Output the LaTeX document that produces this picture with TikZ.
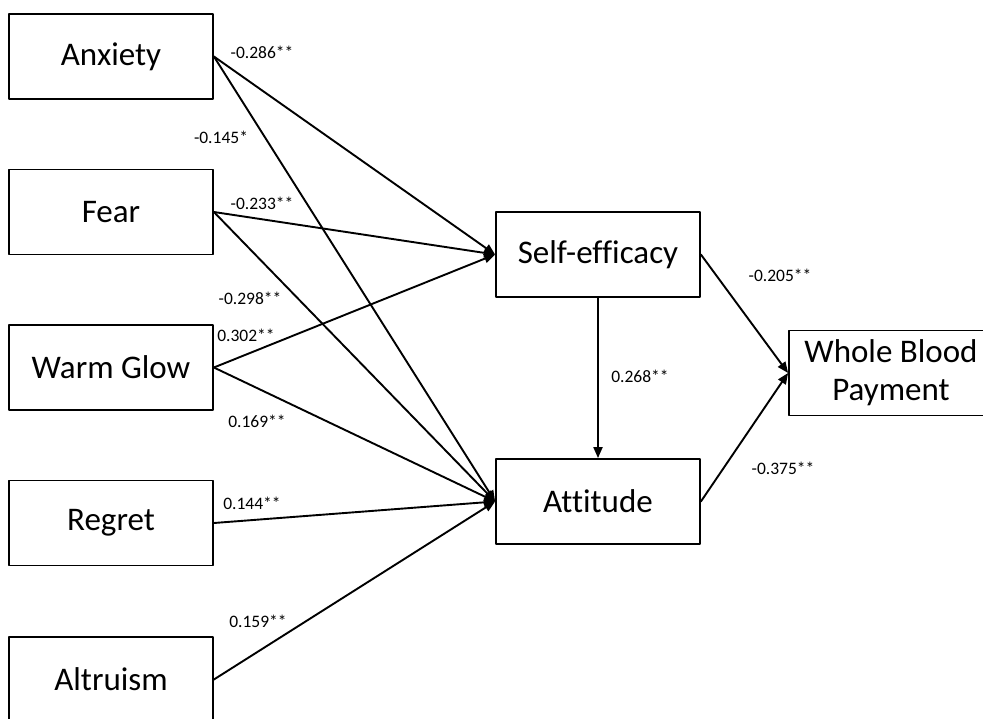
\documentclass[tikz,border=0pt]{standalone}
\usepackage{fontspec}
\setmainfont{Carlito}[Ligatures={NoCommon}]
\usetikzlibrary{arrows.meta,positioning}

\tikzset{
  factor/.style={draw,line width=1.8pt,minimum width=204pt,minimum height=85pt,
    inner sep=0pt,font=\fontsize{33}{38}\selectfont},
  path/.style={-{Triangle[length=11pt,width=9pt]},line width=1.9pt},
  coef/.style={font=\fontsize{17.5}{20}\selectfont,inner sep=0pt}
}

\begin{document}
\begin{tikzpicture}[x=1pt,y=-1pt,line cap=round,line join=round]
\useasboundingbox (0,0) rectangle (983,718);
\clip (0,0) rectangle (983,718);
% antecedents on the left
\node[factor] (anx)   at (111,56.5)  {Anxiety};
\node[factor] (fear)  at (111,212)   {Fear};
\node[factor] (warm)  at (111,367.5) {Warm Glow};
\node[factor] (reg)   at (111,523)   {Regret};
\node[factor] (alt)   at (111,679.5) {Altruism};
% mediators and outcome
\node[factor] (self)  at (598,254.5) {Self-efficacy};
\node[factor] (att)   at (598,501.5) {Attitude};
\node[factor,align=center] (wbp) at (891,373) {Whole Blood\\Payment};
% paths
\draw[path] (anx.east)  -- (self.west);
\draw[path] (anx.east)  -- (att.west);
\draw[path] (fear.east) -- (self.west);
\draw[path] (fear.east) -- (att.west);
\draw[path] (warm.east) -- (self.west);
\draw[path] (warm.east) -- (att.west);
\draw[path] (reg.east)  -- (att.west);
\draw[path] (alt.east)  -- (att.west);
\draw[path] (self.south) -- (att.north);
\draw[path] (self.east) -- (wbp.west);
\draw[path] (att.east)  -- (wbp.west);
% coefficients
\node[coef] (c1)  at (262,52)  {-0.286**};
\node[coef] (c2)  at (221,137) {-0.145*};
\node[coef] (c3)  at (262,203) {-0.233**};
\node[coef] (c4)  at (250,298) {-0.298**};
\node[coef] (c5)  at (246,335) {0.302**};
\node[coef] (c6)  at (257,421) {0.169**};
\node[coef] (c7)  at (252,503) {0.144**};
\node[coef] (c8)  at (258,621) {0.159**};
\node[coef] (c9)  at (640,376) {0.268**};
\node[coef] (c10) at (780,275) {-0.205**};
\node[coef] (c11) at (783,468) {-0.375**};
\end{tikzpicture}
\end{document}
